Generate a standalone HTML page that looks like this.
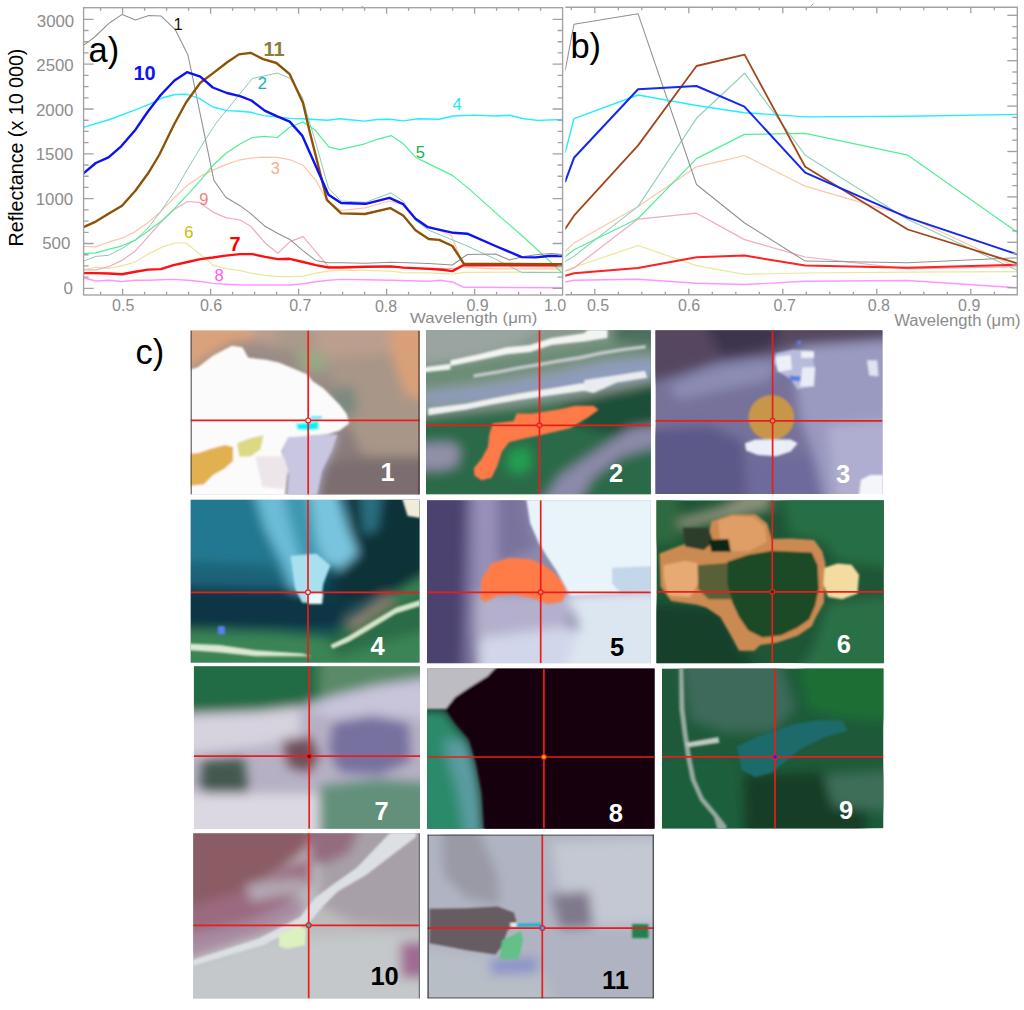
<!DOCTYPE html>
<html><head><meta charset="utf-8"><style>
html,body{margin:0;padding:0;background:#fff;}
body{width:1024px;height:1010px;overflow:hidden;position:relative;font-family:"Liberation Sans",sans-serif;}
svg{position:absolute;left:0;top:0;}
</style></head><body>
<svg width="1024" height="1010" viewBox="0 0 1024 1010">
<defs><clipPath id="ca"><rect x="83.5" y="7.7" width="479.1" height="287.1"/></clipPath><clipPath id="cb"><rect x="565.3" y="7.2" width="452" height="287.5"/></clipPath></defs>
<g clip-path="url(#ca)" fill="none" stroke-linejoin="round" stroke-linecap="round">
<polyline points="83.5,277.8 95.8,281.0 108.5,280.2 122.0,281.5 135.4,280.2 148.1,280.2 160.8,279.7 173.5,279.4 187.7,280.2 200.4,281.5 213.0,283.4 225.7,284.2 240.0,285.0 265.1,285.0 290.4,285.0 303.1,283.8 315.8,281.8 328.5,280.2 341.1,279.4 365.7,279.7 391.0,280.2 428.7,281.2 440.1,280.3 452.4,282.0 463.8,287.3 562.6,287.7" stroke="#ff96ff" stroke-width="1.4"/>
<polyline points="83.5,269.9 95.8,267.2 108.5,268.3 122.0,265.9 135.4,262.0 148.1,254.1 162.4,246.9 175.0,243.0 186.1,243.0 198.8,253.3 213.0,265.1 225.7,268.6 240.0,270.7 250.8,273.1 265.1,275.4 277.8,276.6 290.4,276.6 303.1,276.2 315.8,273.1 328.5,271.2 341.1,270.4 365.7,270.4 391.0,271.2 403.2,272.7 428.7,272.9 452.4,274.1 463.8,272.4 562.6,272.0" stroke="#eae69a" stroke-width="1.2"/>
<polyline points="83.5,269.9 95.8,269.9 108.5,266.7 122.0,260.4 135.4,250.9 148.1,236.6 160.8,222.4 175.0,208.9 187.7,201.5 198.8,202.3 213.0,212.1 225.7,217.6 240.0,220.0 250.8,226.3 265.1,243.0 277.8,253.3 290.4,241.4 303.1,236.6 315.8,251.7 328.5,266.7 341.1,266.9 400.0,267.5 452.4,268.5 463.8,266.5 562.6,267.0" stroke="#f2abbd" stroke-width="1.2"/>
<polyline points="83.5,246.5 95.8,246.9 108.5,242.2 122.0,238.2 135.4,231.6 148.1,222.4 159.2,212.9 175.0,197.0 187.7,185.1 200.4,176.4 213.0,170.1 225.7,164.6 240.0,159.8 250.8,158.2 263.5,157.1 277.8,157.4 290.4,159.8 303.1,165.3 315.8,180.4 327.7,201.8 341.1,210.5 364.9,207.8 389.5,201.0 403.2,204.7 415.5,217.9 427.8,225.8 451.5,235.5 463.8,267.1 495.5,268.9 562.6,268.9" stroke="#ffc4aa" stroke-width="1.2"/>
<polyline points="83.5,261.2 95.8,256.4 108.5,255.3 122.0,248.5 135.4,239.8 148.1,227.9 160.8,211.3 175.0,190.7 189.3,166.1 205.1,140.0 215.9,123.4 252.2,78.6 277.2,73.0 289.7,78.1 302.2,96.9 308.4,118.8 315.0,140.0 328.5,188.3 341.1,201.0 365.7,202.3 391.0,192.8 403.2,201.2 415.5,220.5 428.7,230.2 452.4,239.9 467.3,246.0 495.5,259.2 521.8,272.4 562.6,272.7" stroke="#8cc8b4" stroke-width="1.0"/>
<polyline points="83.5,253.7 95.8,252.8 108.5,249.3 122.0,245.8 135.4,240.1 148.1,231.1 160.8,221.6 173.5,209.7 187.7,194.7 200.4,180.4 213.0,165.3 225.7,153.5 240.0,144.0 252.2,137.5 264.7,136.4 277.2,137.5 289.7,127.3 303.0,121.9 314.7,129.7 328.8,146.9 339.7,149.7 364.7,143.8 377.2,139.4 391.2,135.6 403.2,143.7 415.5,157.2 427.8,163.4 452.4,175.4 469.1,188.9 495.5,212.6 521.8,235.5 544.7,256.6 562.6,273.3" stroke="#52ee96" stroke-width="1.2"/>
<polyline points="83.4,45.3 94.1,37.5 109.7,22.7 122.2,14.4 135.5,20.0 148.8,15.6 161.2,16.1 175.3,29.7 187.8,54.7 190.9,68.8 213.9,180.4 225.7,197.3 240.0,205.7 250.8,213.7 265.1,226.3 277.8,233.5 290.4,239.8 303.1,250.9 315.8,260.4 328.5,262.8 341.1,262.8 365.7,263.2 391.0,262.3 407.6,262.7 428.7,263.6 452.4,265.0 467.3,254.5 481.4,254.3 495.5,253.9 509.5,260.1 523.6,256.6 537.7,254.5 551.7,253.6 562.6,254.5" stroke="#909090" stroke-width="1.05"/>
<polyline points="83.4,127.3 109.7,119.5 134.7,110.2 150.3,103.9 162.8,97.7 175.3,94.5 186.2,94.2 198.8,98.1 212.8,107.0 226.9,110.6 240.0,111.2 250.6,112.2 263.1,115.6 276.4,116.9 289.7,118.4 302.2,118.8 314.7,119.5 327.2,120.3 339.7,118.8 352.2,120.0 364.7,121.1 377.2,119.5 390.0,119.2 403.2,120.9 418.1,118.7 439.2,119.2 453.3,116.0 474.4,115.1 495.5,116.0 509.5,115.3 523.6,118.7 537.7,120.4 562.6,119.5" stroke="#22eeff" stroke-width="1.4"/>
<polyline points="83.5,273.1 95.8,273.1 108.5,273.5 122.0,274.3 135.4,271.8 148.1,269.6 160.8,269.1 173.5,265.1 187.7,262.0 200.4,259.1 213.0,257.5 225.7,255.6 239.8,254.1 252.4,254.1 265.1,256.9 277.8,259.1 289.7,258.8 303.1,262.0 315.8,265.1 328.5,267.5 341.1,267.5 365.7,266.7 391.0,266.4 403.2,267.6 428.7,268.9 442.7,269.7 452.4,271.1 463.8,265.0 562.6,265.3" stroke="#ff1010" stroke-width="2.4"/>
<polyline points="83.5,227.1 95.8,221.6 108.5,213.7 122.0,205.7 135.4,190.7 148.1,173.3 159.2,155.0 173.8,125.0 186.2,102.3 200.3,82.8 212.8,73.4 226.9,62.5 238.9,54.4 250.6,52.8 263.1,59.1 276.4,63.0 289.7,74.2 303.0,103.1 309.2,129.7 326.9,199.9 341.1,213.3 364.9,214.0 390.2,208.1 403.2,215.6 415.5,230.2 428.7,239.0 439.2,239.9 452.4,246.0 463.8,263.6 562.6,264.1" stroke="#8c5206" stroke-width="2.35"/>
<polyline points="83.5,173.3 95.8,163.0 108.5,157.4 121.2,146.3 135.5,129.7 147.2,112.5 160.5,95.3 174.5,80.5 187.0,72.2 200.3,76.6 212.8,87.5 226.9,93.0 240.0,96.1 251.4,100.5 264.7,110.6 277.2,116.4 289.7,121.6 302.2,135.6 328.5,194.7 341.1,203.0 365.7,203.8 389.5,197.8 403.2,204.2 415.5,218.8 427.8,227.2 441.0,230.2 453.3,232.8 467.3,233.7 495.5,246.0 521.8,257.1 535.9,257.4 548.2,256.0 562.6,256.0" stroke="#0c12f2" stroke-width="2.4"/>
</g>
<g clip-path="url(#cb)" fill="none" stroke-linejoin="round" stroke-linecap="round">
<polyline points="565.3,282.0 574.0,280.2 638.1,279.3 696.5,283.2 744.6,284.5 805.2,281.3 907.8,280.5 1017.3,287.7" stroke="#ff96ff" stroke-width="1.4"/>
<polyline points="565.3,270.5 574.0,267.3 638.1,245.5 696.5,265.6 744.6,274.4 805.2,273.0 907.8,272.2 1017.3,271.6" stroke="#eae69a" stroke-width="1.2"/>
<polyline points="565.3,271.3 574.0,267.9 638.1,219.1 696.5,213.2 744.6,239.6 805.2,257.0 907.8,268.9 1017.3,266.7" stroke="#f2abbd" stroke-width="1.2"/>
<polyline points="565.3,251.3 574.0,242.9 638.1,206.4 696.5,166.8 744.6,155.5 805.2,186.2 907.8,216.2 1017.3,267.5" stroke="#ffc4aa" stroke-width="1.2"/>
<polyline points="565.3,261.5 574.0,256.2 638.1,206.4 696.5,118.3 744.6,73.2 805.2,155.2 907.8,219.5 1017.3,270.3" stroke="#96d0bc" stroke-width="1.2"/>
<polyline points="565.3,256.6 574.0,249.8 638.1,218.5 696.5,158.6 744.4,134.4 805.2,133.3 907.8,155.2 1017.3,232.3" stroke="#52ee96" stroke-width="1.2"/>
<polyline points="565.3,70.0 574.0,24.2 638.1,13.8 696.5,184.5 744.6,223.0 805.2,261.1 907.8,262.8 1017.3,257.8" stroke="#909090" stroke-width="1.05"/>
<polyline points="565.3,152.0 574.0,118.7 638.1,95.0 696.5,105.5 744.4,112.7 805.2,116.9 907.8,116.3 1017.3,114.4" stroke="#22eeff" stroke-width="1.4"/>
<polyline points="565.3,275.7 574.0,273.2 638.1,267.9 696.5,257.2 744.6,255.6 805.2,265.5 907.8,267.8 1017.3,264.7" stroke="#ff2020" stroke-width="2.0"/>
<polyline points="565.3,228.8 574.0,215.7 638.1,145.4 696.5,66.0 744.6,54.6 805.2,166.8 907.8,229.5 1017.3,263.3" stroke="#a4461c" stroke-width="1.8"/>
<polyline points="565.3,181.4 574.0,157.8 638.1,89.2 696.5,86.0 744.4,106.6 805.2,172.6 907.8,217.6 1017.3,254.4" stroke="#1428ee" stroke-width="2.0"/>
</g>
<g stroke="#a2a2a2" stroke-width="1.35" fill="none">
<rect x="83.6" y="7.7" width="479" height="287.3"/>
<path d="M83.6 288.3h10M562.6 288.3h-10"/>
<path d="M83.6 277.1h5M562.6 277.1h-5"/>
<path d="M83.6 265.9h5M562.6 265.9h-5"/>
<path d="M83.6 254.7h5M562.6 254.7h-5"/>
<path d="M83.6 243.5h10M562.6 243.5h-10"/>
<path d="M83.6 232.3h5M562.6 232.3h-5"/>
<path d="M83.6 221.1h5M562.6 221.1h-5"/>
<path d="M83.6 209.8h5M562.6 209.8h-5"/>
<path d="M83.6 198.6h10M562.6 198.6h-10"/>
<path d="M83.6 187.4h5M562.6 187.4h-5"/>
<path d="M83.6 176.2h5M562.6 176.2h-5"/>
<path d="M83.6 165.0h5M562.6 165.0h-5"/>
<path d="M83.6 153.8h10M562.6 153.8h-10"/>
<path d="M83.6 142.6h5M562.6 142.6h-5"/>
<path d="M83.6 131.4h5M562.6 131.4h-5"/>
<path d="M83.6 120.2h5M562.6 120.2h-5"/>
<path d="M83.6 109.0h10M562.6 109.0h-10"/>
<path d="M83.6 97.8h5M562.6 97.8h-5"/>
<path d="M83.6 86.6h5M562.6 86.6h-5"/>
<path d="M83.6 75.3h5M562.6 75.3h-5"/>
<path d="M83.6 64.1h10M562.6 64.1h-10"/>
<path d="M83.6 52.9h5M562.6 52.9h-5"/>
<path d="M83.6 41.7h5M562.6 41.7h-5"/>
<path d="M83.6 30.5h5M562.6 30.5h-5"/>
<path d="M83.6 19.3h10M562.6 19.3h-10"/>
<path d="M100.6 7.7v3M100.6 294.8v-3"/>
<path d="M122.6 7.7v6M122.6 294.8v-6"/>
<path d="M144.6 7.7v3M144.6 294.8v-3"/>
<path d="M166.6 7.7v3M166.6 294.8v-3"/>
<path d="M188.6 7.7v3M188.6 294.8v-3"/>
<path d="M210.6 7.7v6M210.6 294.8v-6"/>
<path d="M232.6 7.7v3M232.6 294.8v-3"/>
<path d="M254.6 7.7v3M254.6 294.8v-3"/>
<path d="M276.6 7.7v3M276.6 294.8v-3"/>
<path d="M298.6 7.7v6M298.6 294.8v-6"/>
<path d="M320.6 7.7v3M320.6 294.8v-3"/>
<path d="M342.6 7.7v3M342.6 294.8v-3"/>
<path d="M364.6 7.7v3M364.6 294.8v-3"/>
<path d="M386.6 7.7v6M386.6 294.8v-6"/>
<path d="M408.6 7.7v3M408.6 294.8v-3"/>
<path d="M430.6 7.7v3M430.6 294.8v-3"/>
<path d="M452.6 7.7v3M452.6 294.8v-3"/>
<path d="M474.6 7.7v6M474.6 294.8v-6"/>
<path d="M496.6 7.7v3M496.6 294.8v-3"/>
<path d="M518.6 7.7v3M518.6 294.8v-3"/>
<path d="M540.6 7.7v3M540.6 294.8v-3"/>
<path d="M565.3 7.2H1017.3V294.7H565.3"/>
<path d="M1017.3 287.7h-10"/>
<path d="M1017.3 276.3h-5"/>
<path d="M1017.3 265.0h-5"/>
<path d="M1017.3 253.6h-5"/>
<path d="M1017.3 242.3h-10"/>
<path d="M1017.3 230.9h-5"/>
<path d="M1017.3 219.6h-5"/>
<path d="M1017.3 208.2h-5"/>
<path d="M1017.3 196.9h-10"/>
<path d="M1017.3 185.6h-5"/>
<path d="M1017.3 174.2h-5"/>
<path d="M1017.3 162.8h-5"/>
<path d="M1017.3 151.5h-10"/>
<path d="M1017.3 140.2h-5"/>
<path d="M1017.3 128.8h-5"/>
<path d="M1017.3 117.4h-5"/>
<path d="M1017.3 106.1h-10"/>
<path d="M1017.3 94.8h-5"/>
<path d="M1017.3 83.4h-5"/>
<path d="M1017.3 72.0h-5"/>
<path d="M1017.3 60.7h-10"/>
<path d="M1017.3 49.3h-5"/>
<path d="M1017.3 38.0h-5"/>
<path d="M1017.3 26.6h-5"/>
<path d="M1017.3 15.3h-10"/>
<path d="M571.3 7.2v3M571.3 294.7v-3"/>
<path d="M594.8 7.2v6M594.8 294.7v-6"/>
<path d="M618.3 7.2v3M618.3 294.7v-3"/>
<path d="M641.8 7.2v3M641.8 294.7v-3"/>
<path d="M665.3 7.2v3M665.3 294.7v-3"/>
<path d="M688.8 7.2v6M688.8 294.7v-6"/>
<path d="M712.3 7.2v3M712.3 294.7v-3"/>
<path d="M735.8 7.2v3M735.8 294.7v-3"/>
<path d="M759.3 7.2v3M759.3 294.7v-3"/>
<path d="M782.8 7.2v6M782.8 294.7v-6"/>
<path d="M806.3 7.2v3M806.3 294.7v-3"/>
<path d="M829.8 7.2v3M829.8 294.7v-3"/>
<path d="M853.3 7.2v3M853.3 294.7v-3"/>
<path d="M876.8 7.2v6M876.8 294.7v-6"/>
<path d="M900.3 7.2v3M900.3 294.7v-3"/>
<path d="M923.8 7.2v3M923.8 294.7v-3"/>
<path d="M947.3 7.2v3M947.3 294.7v-3"/>
<path d="M970.8 7.2v6M970.8 294.7v-6"/>
<path d="M994.3 7.2v3M994.3 294.7v-3"/>
<path d="M810.5 6.5l3-3M361 7.5l2-1.5" stroke-width="1"/>
</g>
<g font-family="Liberation Sans, sans-serif" font-size="16" fill="#8c8c8c">
<text x="63.5" y="294.1" textLength="9.4" lengthAdjust="spacingAndGlyphs">0</text>
<text x="42.2" y="249.4" textLength="28.2" lengthAdjust="spacingAndGlyphs">500</text>
<text x="35.7" y="204.7" textLength="37.4" lengthAdjust="spacingAndGlyphs">1000</text>
<text x="35.7" y="160.1" textLength="37.4" lengthAdjust="spacingAndGlyphs">1500</text>
<text x="36.0" y="115.9" textLength="37.4" lengthAdjust="spacingAndGlyphs">2000</text>
<text x="36.3" y="70.8" textLength="37.4" lengthAdjust="spacingAndGlyphs">2500</text>
<text x="36.8" y="27.2" textLength="37.4" lengthAdjust="spacingAndGlyphs">3000</text>
<text x="123.2" y="310.8" text-anchor="middle">0.5</text>
<text x="211.0" y="310.8" text-anchor="middle">0.6</text>
<text x="300.3" y="310.8" text-anchor="middle">0.7</text>
<text x="386.0" y="312.2" text-anchor="middle">0.8</text>
<text x="477.6" y="310.8" text-anchor="middle">0.9</text>
<text x="555.0" y="310.8" text-anchor="middle">1.0</text>
<text x="598.0" y="310.8" text-anchor="middle">0.5</text>
<text x="689.0" y="310.8" text-anchor="middle">0.6</text>
<text x="784.7" y="310.8" text-anchor="middle">0.7</text>
<text x="878.8" y="310.8" text-anchor="middle">0.8</text>
<text x="969.2" y="310.8" text-anchor="middle">0.9</text>
<text x="410" y="322.7" font-size="14.6" textLength="127.4" lengthAdjust="spacingAndGlyphs">Wavelength (μm)</text>
<text x="894.2" y="326" font-size="16" textLength="126.4" lengthAdjust="spacingAndGlyphs">Wavelength (μm)</text>
</g>
<text transform="translate(23.2,246.4) rotate(-90)" font-family="Liberation Sans, sans-serif" font-size="19.5" fill="#000" textLength="197.8" lengthAdjust="spacingAndGlyphs">Reflectance (x 10 000)</text>
<g font-family="Liberation Sans, sans-serif" fill="#000" font-size="34.5"><text x="88.6" y="61.6">a)</text><text x="570.4" y="58.2">b)</text><text x="135.6" y="364">c)</text></g>
<g font-family="Liberation Sans, sans-serif">
<text x="173.5" y="29.7" font-size="16.5" fill="#111">1</text>
<text x="133.5" y="80.2" font-size="20" font-weight="bold" fill="#1414ee">10</text>
<text x="263.5" y="56.2" font-size="20" font-weight="bold" fill="#8b7d3a">11</text>
<text x="257.8" y="89" font-size="16.5" fill="#12b0b0">2</text>
<text x="270.8" y="173.6" font-size="16.5" fill="#f8b080">3</text>
<text x="452.5" y="110.4" font-size="16.5" fill="#22e6f0">4</text>
<text x="415.7" y="157.8" font-size="16.5" fill="#20b050">5</text>
<text x="184.3" y="238.2" font-size="16.5" fill="#c8c000">6</text>
<text x="229.5" y="250.9" font-size="20" font-weight="bold" fill="#ff0000">7</text>
<text x="214.4" y="281" font-size="16.5" fill="#ff55ff">8</text>
<text x="199.3" y="205" font-size="16.5" fill="#f08080">9</text>
</g>
<defs><filter id="bl" x="-5%" y="-5%" width="110%" height="110%"><feGaussianBlur stdDeviation="22"/></filter><filter id="bs"><feGaussianBlur stdDeviation="5"/></filter></defs>
<clipPath id="pc1"><rect x="190.5" y="330.6" width="229.2" height="163.9"/></clipPath>
<g clip-path="url(#pc1)">
<rect x="190.5" y="330.6" width="229.2" height="163.9" fill="#9a8c86"/>
<g transform="translate(185,325) scale(0.234375)">
<g filter="url(#bl)"><polygon fill="#bc9e8e" points="-67,-65 1090,-65 1090,120 760,150 640,170 540,150 470,110 380,90 300,70 200,70 120,120 60,160 -67,230"/><polygon fill="#d9a27c" points="-67,-65 300,-65 290,70 200,75 110,130 60,165 -67,230"/><polygon fill="#aa9a8a" points="380,-65 560,-65 560,140 480,120 400,95"/><polygon fill="#98a884" points="470,110 600,120 610,200 500,200"/><polygon fill="#d8a078" points="860,-65 1090,-65 1090,340 940,300 900,200 880,120"/><polygon fill="#a89688" points="600,140 880,120 940,300 1090,340 1090,560 760,560 700,430 660,330"/><polygon fill="#7a8a80" points="620,270 720,260 740,360 700,400 640,350"/><polygon fill="#7c6e70" points="540,600 760,560 1090,560 1090,812 540,812"/><polygon fill="#8a7c7c" points="560,470 700,430 760,560 540,600"/><polygon fill="#c0bcd8" points="370,470 560,465 650,470 620,540 580,620 540,812 440,812 440,640 410,570"/></g>
<g filter="url(#bs)"><polygon fill="#fcfbfb" points="-60,215 55,180 120,130 200,88 245,95 270,140 345,148 400,160 460,185 520,210 545,240 590,270 620,300 660,340 690,380 700,420 660,450 610,465 560,470 500,478 440,480 410,540 440,600 430,680 420,812 -60,812"/><polygon fill="#c8c6e0" points="440,480 560,468 650,468 625,540 585,620 545,812 430,812 445,640 412,560"/><polygon fill="#ece6ea" points="300,560 420,560 440,620 420,700 330,690"/><polygon fill="#e2b050" points="-60,560 60,545 110,528 170,512 205,520 205,580 170,612 120,640 80,680 -60,695"/><polygon fill="#dcd884" points="222,505 280,482 335,470 322,530 282,560 232,562"/><polygon fill="#06f4fa" points="475,420 520,416 570,410 570,445 525,450 478,446"/><polygon fill="#50e8f8" points="535,388 585,388 585,402 535,402"/></g>
</g>
<path d="M308.2 330.6V494.5M190.5 420.4H419.7" stroke="#ea1c1c" stroke-width="1.7" fill="none"/>
<circle cx="308.2" cy="420.4" r="2.4" fill="#f4f4f4" stroke="#e8201c" stroke-width="1.2"/>
<path d="M191.1 330.6V494.5" stroke="#505050" stroke-width="1.3"/>
<path d="M419.09999999999997 330.6V494.5" stroke="#403030" stroke-width="1.3"/>
<text x="380.4" y="481.2" font-family="Liberation Sans, sans-serif" font-weight="bold" font-size="25.5" fill="#fff">1</text>
</g>
<clipPath id="pc2"><rect x="426.0" y="330.2" width="224.8" height="164.1"/></clipPath>
<g clip-path="url(#pc2)">
<rect x="426.0" y="330.2" width="224.8" height="164.1" fill="#3e7254"/>
<g transform="translate(420,325) scale(0.234375)">
<g filter="url(#bl)"><polygon fill="#8a9a8e" points="-65,-68 1075,-68 1075,230 800,300 600,320 400,350 200,380 -65,400"/><polygon fill="#9aa4a0" points="-65,-68 600,-68 400,90 200,150 -65,180"/><polygon fill="#8e9cc0" points="-65,300 300,260 550,220 800,160 1075,130 1075,210 760,250 560,280 300,320 -65,340"/><polygon fill="#6a8c76" points="-65,190 250,150 500,110 800,60 1075,40 1075,120 780,140 520,190 250,240 -65,280"/><polygon fill="#2c6a4a" points="-65,400 400,350 700,330 1075,290 1075,812 -65,812"/><polygon fill="#1e5038" points="600,330 1075,230 1075,480 800,470 650,420"/><polygon fill="#8c8aa8" points="480,812 600,640 750,540 900,440 1075,420 1075,500 860,560 740,650 640,812"/><polygon fill="#9090a8" points="-65,510 120,500 170,520 160,600 90,620 -65,620"/><polygon fill="#22a050" points="380,540 460,520 480,600 420,640 370,610"/><polygon fill="#4e6e5e" points="812,-69 1076,-69 1076,92 869,78 822,59"/></g>
<g filter="url(#bs)"><polygon fill="#c4c8cc" points="228,210 332,193 426,175 511,161 586,147 680,132 775,112 869,97 963,85 963,100 869,112 775,127 680,148 586,162 511,176 426,190 332,208 228,225"/><polygon fill="#f2f4f2" points="130,150 250,125 370,95 470,85 560,55 700,35 800,-65 800,55 700,70 560,85 470,115 370,125 250,150 130,175"/><polygon fill="#f0f2f0" points="-60,190 130,165 130,190 -60,210"/><polygon fill="#eef0f0" points="35,355 200,335 300,315 420,292 560,270 680,250 760,245 790,270 700,280 560,300 420,320 300,340 200,360 35,385"/><polygon fill="#e8ecf0" points="700,235 800,220 960,195 970,225 840,245 740,290 700,280"/><polygon fill="#ff7a48" points="230,610 262,572 290,520 295,470 310,420 400,410 412,378 480,378 600,358 660,345 740,345 762,362 720,392 640,440 520,468 440,485 380,500 350,540 330,600 305,652 262,662 232,642"/></g>
</g>
<path d="M539.5 330.2V494.3M426.0 425.3H650.8" stroke="#ea1c1c" stroke-width="1.7" fill="none"/>
<circle cx="539.5" cy="425.3" r="2.4" fill="#ff6040" stroke="#e8201c" stroke-width="1.2"/>
<text x="609.0" y="481.8" font-family="Liberation Sans, sans-serif" font-weight="bold" font-size="25.5" fill="#fff">2</text>
</g>
<clipPath id="pc3"><rect x="655.4" y="330.2" width="227.1" height="163.8"/></clipPath>
<g clip-path="url(#pc3)">
<rect x="655.4" y="330.2" width="227.1" height="163.8" fill="#76729a"/>
<g transform="translate(650,325) scale(0.234375)">
<g filter="url(#bl)"><polygon fill="#54465e" points="-68,-68 1080,-68 1080,70 800,90 600,90 500,130 300,150 150,200 -68,260"/><polygon fill="#3e3450" points="200,-68 600,-68 520,90 400,120 300,130"/><polygon fill="#8c8cb4" points="80,260 250,190 450,150 560,160 500,240 300,280 120,320"/><polygon fill="#9a9ac0" points="640,90 1080,60 1080,810 760,810 700,560 640,400 620,250"/><polygon fill="#b0aed0" points="760,430 1080,400 1080,810 800,810"/><polygon fill="#5c5888" points="-68,450 250,430 400,500 420,810 -68,810"/><polygon fill="#6e6a9c" points="420,560 700,560 760,810 420,810"/></g>
<g filter="url(#bs)"><ellipse cx="518" cy="395" rx="98" ry="96" fill="#c8964a"/><polygon fill="#eaeef8" points="405,505 450,488 600,488 630,505 600,540 540,560 460,555 410,535"/><polygon fill="#b8bcdc" points="535,120 610,105 690,110 705,200 680,265 630,275 600,230 550,200 530,160"/><polygon fill="#eef0f8" points="535,135 600,128 605,190 545,200"/><polygon fill="#eef0f8" points="645,112 700,112 700,140 645,140"/><polygon fill="#e8ecf6" points="650,180 705,180 700,262 640,262"/><polygon fill="#5a80e0" points="595,215 645,220 640,240 598,238"/><polygon fill="#5a80f0" points="628,68 645,68 645,84 628,84"/><polygon fill="#f4f6fc" points="900,660 940,640 1080,640 1080,810 880,810"/><polygon fill="#dfe2f0" points="925,150 970,150 975,220 935,215"/></g>
</g>
<path d="M772.6 330.2V494.0M655.4 420.8H882.5" stroke="#ea1c1c" stroke-width="1.7" fill="none"/>
<circle cx="772.6" cy="420.8" r="2.4" fill="#d09050" stroke="#e8201c" stroke-width="1.2"/>
<text x="836.1" y="483.1" font-family="Liberation Sans, sans-serif" font-weight="bold" font-size="25.5" fill="#fff">3</text>
</g>
<clipPath id="pc4"><rect x="190.7" y="499.8" width="228.8" height="162.8"/></clipPath>
<g clip-path="url(#pc4)">
<rect x="190.7" y="499.8" width="228.8" height="162.8" fill="#0e4452"/>
<g transform="translate(185,495) scale(0.234375)">
<g filter="url(#bl)"><polygon fill="#237890" points="-65,-70 300,-70 420,300 440,400 -65,390"/><polygon fill="#1a6478" points="-65,280 380,300 440,400 -65,400"/><polygon fill="#3e98b0" points="400,-70 520,-70 560,200 600,300 560,380 520,350 470,200"/><polygon fill="#6cbcd8" points="280,-70 400,-70 470,200 520,350 540,440 460,440 420,300 340,140"/><polygon fill="#78c4de" points="520,-70 640,-70 700,150 740,250 660,320 600,300 560,200"/><polygon fill="#0c3038" points="700,-70 1090,-70 1090,400 850,420 700,460 620,420 660,320 740,250 700,150"/><polygon fill="#2a7080" points="740,-70 850,-70 820,150 760,170"/><polygon fill="#0a3644" points="-65,390 440,400 600,430 700,460 650,560 -65,580"/><polygon fill="#3a8454" points="-65,570 400,585 620,600 760,500 1090,300 1090,805 -65,805"/><polygon fill="#2a6c46" points="600,610 760,520 1090,380 1090,560 800,640 650,690"/><polygon fill="#8e8070" points="680,540 860,420 900,450 720,580"/></g>
<g filter="url(#bs)"><polygon fill="#a8e0f0" points="450,260 560,250 620,300 590,380 580,460 500,460 470,400"/><polygon fill="#eaf8fc" points="520,420 590,420 585,465 525,465"/><polygon fill="#f0ecd8" points="900,-70 1090,-70 1090,110 950,90"/><polygon fill="#dce6d0" points="-65,630 150,640 300,662 500,676 540,688 300,688 150,672 -65,656"/><polygon fill="#d4e4c8" points="620,640 700,600 800,540 900,480 1090,420 1090,446 900,506 800,566 700,626 630,656"/><polygon fill="#5a80f0" points="140,560 170,560 170,595 140,595"/></g>
</g>
<path d="M308.0 499.8V662.6M190.7 592.3H419.5" stroke="#ea1c1c" stroke-width="1.7" fill="none"/>
<circle cx="308.0" cy="592.3" r="2.4" fill="#c0f0ff" stroke="#e8201c" stroke-width="1.2"/>
<text x="370.4" y="654.7" font-family="Liberation Sans, sans-serif" font-weight="bold" font-size="25.5" fill="#fff">4</text>
</g>
<clipPath id="pc5"><rect x="427.0" y="500.2" width="223.8" height="163.1"/></clipPath>
<g clip-path="url(#pc5)">
<rect x="427.0" y="500.2" width="223.8" height="163.1" fill="#8e8aac"/>
<g transform="translate(420,495) scale(0.234375)">
<g filter="url(#bl)"><polygon fill="#4c4270" points="-60,-68 240,-68 230,300 220,500 240,808 -60,808"/><polygon fill="#7a739e" points="200,-68 440,-68 470,150 500,220 420,260 300,300 230,400 220,808 180,808"/><polygon fill="#9890b8" points="230,-68 330,-68 330,808 240,808"/><polygon fill="#b4b0cc" points="240,420 640,420 640,520 600,600 400,620 240,600"/><polygon fill="#d2d6ea" points="250,610 640,560 700,600 600,808 250,808"/><polygon fill="#dce6f0" points="620,420 1075,400 1075,808 600,808 680,560"/></g>
<g filter="url(#bs)"><polygon fill="#e8f4fa" points="440,-68 1075,-68 1075,410 640,430 620,390 580,320 540,260 505,200 470,120"/><polygon fill="#ff7c48" points="258,445 262,360 305,292 380,268 470,274 530,300 575,335 610,375 628,412 605,455 545,465 480,440 400,425 330,430 280,455"/><polygon fill="#c4d6ea" points="820,310 1075,300 1075,400 860,420 820,380"/></g>
</g>
<path d="M540.7 500.2V663.3M427.0 592.3H650.8" stroke="#ea1c1c" stroke-width="1.7" fill="none"/>
<circle cx="540.7" cy="592.3" r="2.4" fill="#ff7050" stroke="#e8201c" stroke-width="1.2"/>
<text x="610.0" y="656.2" font-family="Liberation Sans, sans-serif" font-weight="bold" font-size="25.5" fill="#000">5</text>
</g>
<clipPath id="pc6"><rect x="656.4" y="500.2" width="227.5" height="163.1"/></clipPath>
<g clip-path="url(#pc6)">
<rect x="656.4" y="500.2" width="227.5" height="163.1" fill="#1e5636"/>
<g transform="translate(650,495) scale(0.234375)">
<g filter="url(#bl)"><polygon fill="#286e44" points="540,-68 1088,-68 1088,320 800,280 740,200 600,170"/><polygon fill="#12402a" points="-62,460 300,480 380,650 520,808 -62,808"/><polygon fill="#2a7046" points="760,460 1088,420 1088,808 600,808 700,640"/><polygon fill="#8a8e78" points="120,100 300,50 500,-65 520,60 400,90 250,120 130,150"/><polygon fill="#2e6a40" points="-62,-68 120,-68 120,200 -62,220"/></g>
<g filter="url(#bs)"><polygon fill="#cc8a52" points="40,250 130,215 250,180 262,112 350,82 450,82 500,122 520,188 600,186 700,192 735,240 748,290 742,460 708,520 690,560 630,600 540,630 470,640 445,665 380,665 340,590 300,520 240,480 200,468 90,452 45,390"/><polygon fill="#e6aa72" points="58,300 150,280 200,290 205,380 170,436 80,430 60,360"/><polygon fill="#de9e66" points="290,110 350,90 440,95 488,132 498,200 420,240 345,240 300,200"/><polygon fill="#2e3e2c" points="140,140 250,140 270,200 230,235 150,220"/><polygon fill="#102818" points="252,192 335,188 345,242 262,242"/><polygon fill="#586038" points="205,300 330,290 345,445 250,445 205,400"/><polygon fill="#1a4a28" points="330,285 420,255 520,238 690,245 715,300 720,400 705,470 680,530 630,565 560,598 480,608 420,578 380,520 350,455 330,380"/><polygon fill="#f4dca0" points="745,310 800,292 860,298 892,340 885,420 820,445 760,435 740,380"/></g>
</g>
<path d="M772.3 500.2V663.3M656.4 591.8H883.9" stroke="#ea1c1c" stroke-width="1.7" fill="none"/>
<circle cx="772.3" cy="591.8" r="2.4" fill="#204020" stroke="#e8201c" stroke-width="1.2"/>
<text x="836.7" y="653.0" font-family="Liberation Sans, sans-serif" font-weight="bold" font-size="25.5" fill="#fff">6</text>
</g>
<clipPath id="pc7"><rect x="193.9" y="666.2" width="226.1" height="162.5"/></clipPath>
<g clip-path="url(#pc7)">
<rect x="193.9" y="666.2" width="226.1" height="162.5" fill="#b6b0c4"/>
<g transform="translate(188,662) scale(0.234375)">
<g filter="url(#bl)"><polygon fill="#236c44" points="-65,-72 1080,-72 1080,40 850,60 700,110 600,150 480,195 300,222 -65,238"/><polygon fill="#5a8a68" points="560,-72 1080,-72 1080,70 880,90 760,115 640,145 560,150"/><polygon fill="#d6d2de" points="-65,225 300,210 480,190 480,320 300,360 -65,400"/><polygon fill="#c8c4da" points="480,190 640,140 800,100 1080,60 1080,250 800,220 620,240"/><polygon fill="#77719f" points="620,260 780,230 940,260 950,420 820,480 650,470 600,380"/><polygon fill="#70505a" points="400,330 520,320 560,400 520,470 430,450"/><polygon fill="#44584f" points="60,420 240,410 260,570 120,590 50,540"/><polygon fill="#62907a" points="560,530 800,500 1080,520 1080,802 560,802"/><polygon fill="#dcd8e2" points="-65,560 300,560 560,560 560,802 -65,802"/></g>
<g filter="url(#bs)"></g>
</g>
<path d="M309.2 666.2V828.7M193.9 756.2H420.0" stroke="#ea1c1c" stroke-width="1.7" fill="none"/>
<circle cx="309.2" cy="756.2" r="2.4" fill="#600000" stroke="#e8201c" stroke-width="1.2"/>
<text x="374.6" y="820.3" font-family="Liberation Sans, sans-serif" font-weight="bold" font-size="25.5" fill="#fff">7</text>
</g>
<clipPath id="pc8"><rect x="427.1" y="668.4" width="227.5" height="160.3"/></clipPath>
<g clip-path="url(#pc8)">
<rect x="427.1" y="668.4" width="227.5" height="160.3" fill="#140408"/>
<g transform="translate(420,662) scale(0.234375)">
<g filter="url(#bl)"><polygon fill="#2a8a6a" points="-60,200 110,200 150,260 210,330 240,430 265,560 280,802 -60,802"/><polygon fill="#5a9ca0" points="100,330 200,340 240,460 260,600 270,802 200,802 160,550 120,420"/></g>
<g filter="url(#bs)"><polygon fill="#140408" points="110,200 150,150 210,110 290,60 400,-62 1090,-62 1090,802 280,802 265,560 240,430 210,330 150,260"/><polygon fill="#bcbcc2" points="-60,-62 400,-62 290,60 210,110 150,150 110,200 -60,200"/></g>
</g>
<path d="M543.9 668.4V828.7M427.1 757.0H654.6" stroke="#ea1c1c" stroke-width="1.7" fill="none"/>
<circle cx="543.9" cy="757.0" r="2.4" fill="#e0c000" stroke="#e8201c" stroke-width="1.2"/>
<text x="608.8" y="821.6" font-family="Liberation Sans, sans-serif" font-weight="bold" font-size="25.5" fill="#fff">8</text>
</g>
<clipPath id="pc9"><rect x="662.0" y="668.4" width="221.5" height="160.0"/></clipPath>
<g clip-path="url(#pc9)">
<rect x="662.0" y="668.4" width="221.5" height="160.0" fill="#1e5a3a"/>
<g transform="translate(655,662) scale(0.234375)">
<g filter="url(#bl)"><polygon fill="#3e6a5a" points="100,-60 520,-60 600,200 500,300 300,300 150,250"/><polygon fill="#1c6e36" points="600,-60 1065,-60 1065,260 800,240 650,200"/><polygon fill="#123e26" points="380,480 800,470 900,560 900,800 380,800"/><polygon fill="#1e5e3c" points="-60,400 350,420 380,800 -60,800"/><polygon fill="#3e6e58" points="720,480 1065,460 1065,640 760,620"/></g>
<g filter="url(#bs)"><polygon fill="#1c6a6a" points="350,360 430,322 520,292 600,262 700,248 800,250 822,292 720,322 620,372 560,422 500,470 430,492 370,462"/><polygon fill="#98a8a0" points="102,-60 118,-60 126,200 138,300 153,400 173,500 207,578 266,648 306,700 290,800 252,662 192,592 152,502 132,402 117,302 104,200"/><polygon fill="#c0c8c0" points="130,345 270,320 275,345 140,365"/></g>
</g>
<path d="M775.0 668.4V828.4M662.0 756.9H883.5" stroke="#ea1c1c" stroke-width="1.7" fill="none"/>
<circle cx="775.0" cy="756.9" r="2.4" fill="#2020ff" stroke="#e8201c" stroke-width="1.2"/>
<text x="839.0" y="818.6" font-family="Liberation Sans, sans-serif" font-weight="bold" font-size="25.5" fill="#fff">9</text>
</g>
<clipPath id="pc10"><rect x="193.2" y="833.3" width="226.8" height="165.3"/></clipPath>
<g clip-path="url(#pc10)">
<rect x="193.2" y="833.3" width="226.8" height="165.3" fill="#bcbcbe"/>
<g transform="translate(188,828) scale(0.234375)">
<g filter="url(#bl)"><polygon fill="#8a5c64" points="-68,-68 560,-68 500,90 400,170 250,260 -68,380"/><polygon fill="#9a6a80" points="-68,360 250,260 420,170 520,130 520,240 420,320 250,420 -68,500"/><polygon fill="#a88aa0" points="-68,470 250,400 420,320 500,300 480,380 300,460 -68,580"/><polygon fill="#a8a0a8" points="560,-68 960,-68 1080,60 1080,420 880,420 700,400 560,330"/><polygon fill="#c4c8ca" points="-68,600 300,480 1080,440 1080,818 -68,818"/><polygon fill="#a06a92" points="905,490 1080,480 1080,640 910,640"/><polygon fill="#946c80" points="515,-69 763,-69 687,107 591,154 525,145"/><polygon fill="#b4a8b4" points="249,240 496,211 496,268 268,316"/></g>
<g filter="url(#bs)"><polygon fill="#dcdfe4" points="-68,592 300,472 480,380 540,300 620,240 720,170 940,-62 975,36 760,200 640,270 580,330 520,400 320,500 -68,615"/><polygon fill="#dcf0c0" points="388,455 470,420 505,430 500,500 420,515 388,505"/></g>
</g>
<path d="M308.7 833.3V998.6M193.2 925.3H420.0" stroke="#ea1c1c" stroke-width="1.7" fill="none"/>
<circle cx="308.7" cy="925.3" r="2.4" fill="#20c0c0" stroke="#e8201c" stroke-width="1.2"/>
<path d="M419.4 833.3V998.6" stroke="#707070" stroke-width="1.3"/>
<text x="370.4" y="984.7" font-family="Liberation Sans, sans-serif" font-weight="bold" font-size="25.5" fill="#000">10</text>
</g>
<clipPath id="pc11"><rect x="427.4" y="834.4" width="226.5" height="164.2"/></clipPath>
<g clip-path="url(#pc11)">
<rect x="427.4" y="834.4" width="226.5" height="164.2" fill="#b0b4c2"/>
<g transform="translate(420,828) scale(0.234375)">
<g filter="url(#bl)"><polygon fill="#9a9aa6" points="90,-60 220,-60 330,200 340,330 200,300 100,200"/><polygon fill="#c4c8d2" points="560,60 1080,40 1080,400 760,420 600,300"/><polygon fill="#80788c" points="560,280 720,270 740,420 600,430"/><polygon fill="#b8bec6" points="-58,520 500,560 600,818 -58,818"/><polygon fill="#8a92c8" points="300,560 500,555 500,620 300,625"/></g>
<g filter="url(#bs)"><polygon fill="#665c62" points="40,345 200,342 330,335 400,360 412,400 372,440 352,500 322,540 200,522 100,502 40,492"/><polygon fill="#62c088" points="350,480 430,440 440,480 420,560 340,560"/><polygon fill="#10b0d0" points="410,408 520,406 520,420 410,422"/><polygon fill="#208050" points="905,410 975,410 975,470 905,470"/><polygon fill="#f4f4f4" points="385,405 412,405 412,420 385,420"/></g>
</g>
<path d="M542.3 834.4V998.6M427.4 928.1H653.9" stroke="#ea1c1c" stroke-width="1.7" fill="none"/>
<circle cx="542.3" cy="928.1" r="2.4" fill="#40a0ff" stroke="#e8201c" stroke-width="1.2"/>
<path d="M428.0 834.4V998.6" stroke="#303030" stroke-width="1.3"/>
<path d="M427.4 835.0H653.9" stroke="#303030" stroke-width="1.2"/>
<path d="M653.3 834.4V998.6" stroke="#404040" stroke-width="1.3"/>
<path d="M427.4 998.0H653.9" stroke="#404040" stroke-width="1.2"/>
<text x="601.9" y="989.2" font-family="Liberation Sans, sans-serif" font-weight="bold" font-size="25.5" fill="#000">11</text>
</g>
</svg>
</body></html>
